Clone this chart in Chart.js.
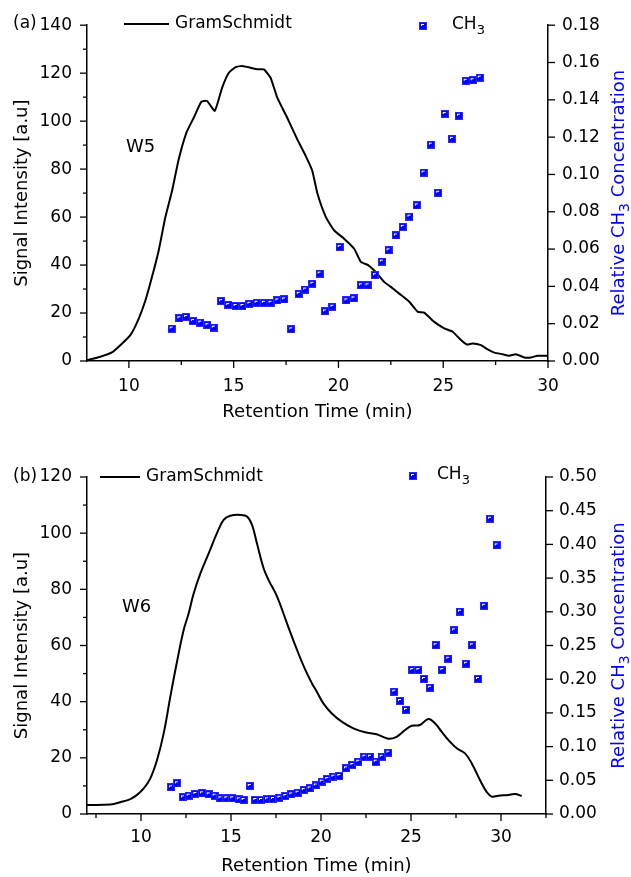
<!DOCTYPE html>
<html>
<head>
<meta charset="utf-8">
<script src="https://cdn.jsdelivr.net/npm/chart.js@4.4.1/dist/chart.umd.min.js"></script>
<style>
  html, body { margin: 0; padding: 0; background: #fff; }
  #wrap { position: relative; width: 631px; height: 877px; }
  canvas { position: absolute; left: 0; }
</style>
</head>
<body>
<div id="wrap">
  <canvas id="chartA" width="631" height="438" style="top:0"></canvas>
  <canvas id="chartB" width="631" height="439" style="top:438px"></canvas>
</div>
<script>
// ---- panel (a), W5 ----
const gramTimeA = [8, 8.64, 9.19, 9.59, 10.07, 10.47, 10.79, 11.1, 11.42, 11.74, 12.06, 12.38, 12.75, 13.1, 13.46, 13.73, 14.1, 14.45, 14.77, 15.09, 15.4, 15.8, 16.12, 16.44, 16.76, 17.08, 17.55, 18.03, 18.43, 18.75, 19.0, 19.4, 19.8, 20.27, 20.75, 21.07, 21.43, 21.78, 22.18, 22.5, 22.9, 23.38, 23.78, 24.09, 24.57, 25.05, 25.45, 25.77, 26.12, 26.4, 26.8, 27.12, 27.44, 27.84, 28.15, 28.47, 28.87, 29.19, 29.5, 30];
const gramA = [0.4, 1.8, 3.6, 6.6, 10.8, 17.7, 25.3, 35, 46, 60, 71, 84.2, 95.3, 101.5, 108.1, 108.4, 104.3, 114, 120.2, 122.5, 123, 122.3, 121.6, 121.6, 118.1, 109.8, 101.5, 92.5, 85.6, 79.3, 69.7, 60, 54.4, 51, 46.8, 41.3, 39.9, 37.1, 33, 30.9, 28.1, 24.7, 20.5, 20.2, 16.3, 13.6, 12.2, 9.4, 6.9, 7.3, 6.6, 4.8, 3.5, 2.8, 2.2, 2.8, 1.5, 1.5, 2.2, 2.2];
const ch3TimeA = [12.04, 12.41, 12.73, 13.06, 13.41, 13.75, 14.05, 14.4, 14.74, 15.09, 15.42, 15.75, 16.09, 16.44, 16.76, 17.08, 17.41, 17.75, 18.1, 18.41, 18.76, 19.1, 19.36, 19.71, 20.06, 20.38, 20.72, 21.07, 21.39, 21.74, 22.07, 22.39, 22.74, 23.07, 23.39, 23.74, 24.06, 24.41, 24.76, 25.07, 25.42, 25.75, 26.07, 26.4, 26.74];
const ch3A = [0.0174, 0.0229, 0.0236, 0.0215, 0.0206, 0.0192, 0.0179, 0.0321, 0.030, 0.0295, 0.0295, 0.0307, 0.0312, 0.0312, 0.0312, 0.0325, 0.033, 0.017, 0.036, 0.0383, 0.0414, 0.0469, 0.0266, 0.0291, 0.0611, 0.0325, 0.0336, 0.0406, 0.0406, 0.046, 0.0533, 0.0593, 0.0673, 0.0719, 0.0774, 0.0834, 0.101, 0.116, 0.0902, 0.1324, 0.1191, 0.1315, 0.1502, 0.1505, 0.1519];
const xTicksA = [10, 12.5, 15, 17.5, 20, 22.5, 25, 27.5, 30];
const yTicksA = [0, 10, 20, 30, 40, 50, 60, 70, 80, 90, 100, 110, 120, 130, 140];
const y2TicksA = [0, 0.02, 0.04, 0.06, 0.08, 0.10, 0.12, 0.14, 0.16, 0.18];

// ---- panel (b), W6 ----
const gramTimeB = [7, 8.3, 8.85, 9.41, 9.78, 10.15, 10.52, 10.89, 11.26, 11.63, 12, 12.37, 12.65, 12.93, 13.3, 13.76, 14.22, 14.59, 14.96, 15.52, 15.89, 16.17, 16.44, 16.81, 17.09, 17.56, 18.11, 18.67, 19.13, 19.5, 19.76, 20.13, 20.59, 21.15, 21.8, 22.45, 23.09, 23.74, 24.2, 24.67, 25.04, 25.5, 25.96, 26.33, 26.7, 27.07, 27.54, 28, 28.37, 28.83, 29.2, 29.48, 29.85, 30.41, 30.78, 31.15];
const gramB = [3.2, 3.4, 4.2, 5.3, 6.8, 9.1, 12.7, 19.2, 28.7, 41.8, 54.2, 65.5, 71.5, 78.6, 85.7, 92.8, 100, 104.7, 106.2, 106.5, 105.9, 102.9, 96.4, 87.5, 83.3, 77.4, 67.9, 58.4, 51.3, 46.5, 43.6, 39.4, 35.9, 32.9, 30.5, 29.1, 28.4, 26.8, 27.5, 29.9, 31.4, 31.7, 33.8, 32.3, 29.3, 26.4, 23.4, 21.6, 18.1, 12.1, 7.9, 6.2, 6.5, 6.8, 7.1, 6.4];
const ch3TimeB = [11.67, 12.0, 12.33, 12.65, 13.02, 13.39, 13.76, 14.09, 14.41, 14.74, 15.07, 15.43, 15.7, 16.04, 16.35, 16.67, 17.0, 17.33, 17.69, 18.02, 18.35, 18.7, 19.04, 19.37, 19.71, 20.04, 20.35, 20.69, 21.02, 21.39, 21.74, 22.07, 22.41, 22.72, 23.04, 23.37, 23.74, 24.07, 24.39, 24.72, 25.07, 25.41, 25.72, 26.06, 26.37, 26.74, 27.07, 27.39, 27.72, 28.06, 28.39, 28.72, 29.06, 29.39, 29.76];
const ch3B = [0.0396, 0.0455, 0.0247, 0.0272, 0.0297, 0.0307, 0.0292, 0.0272, 0.0233, 0.0233, 0.0233, 0.0218, 0.0208, 0.0415, 0.0208, 0.0208, 0.0218, 0.0223, 0.0242, 0.0267, 0.0292, 0.0316, 0.0356, 0.0381, 0.0423, 0.048, 0.0519, 0.0554, 0.0564, 0.0678, 0.0727, 0.0776, 0.085, 0.085, 0.0776, 0.085, 0.091, 0.1815, 0.1677, 0.1543, 0.2136, 0.2136, 0.2003, 0.1874, 0.2503, 0.2136, 0.2304, 0.2725, 0.3002, 0.223, 0.2503, 0.2003, 0.309, 0.4381, 0.3986];
const xTicksB = [7.5, 10, 12.5, 15, 17.5, 20, 22.5, 25, 27.5, 30, 32.5];
const yTicksB = [0, 10, 20, 30, 40, 50, 60, 70, 80, 90, 100, 110, 120];
const y2TicksB = [0, 0.05, 0.10, 0.15, 0.20, 0.25, 0.30, 0.35, 0.40, 0.45, 0.50];

const fam = '"DejaVu Sans", sans-serif';

// blue square marker with a small white highlight
function squareMarker() {
  const c = document.createElement('canvas');
  c.width = 8; c.height = 8;
  const g = c.getContext('2d');
  g.fillStyle = '#2a2aff';
  g.fillRect(0, 0, 8, 8);
  g.fillStyle = '#0000ff';
  g.fillRect(1, 1, 6, 6);
  g.fillStyle = '#ffffff';
  g.fillRect(2, 2, 3, 1);
  g.fillRect(2, 2, 1, 2);
  return c;
}
const marker = squareMarker();

// outward tick marks, long for labelled ticks, short for minor ones
const tickMarks = {
  id: 'tickMarks',
  afterDraw(chart) {
    const ctx = chart.ctx;
    ctx.save();
    ctx.strokeStyle = '#000';
    ctx.lineWidth = 1.3;
    Object.values(chart.scales).forEach(s => {
      s.ticks.forEach(t => {
        const len = t.label === '' ? 4 : 7;
        const p = s.getPixelForValue(t.value);
        ctx.beginPath();
        if (s.position === 'bottom') { ctx.moveTo(p, s.top); ctx.lineTo(p, s.top + len); }
        else if (s.position === 'left') { ctx.moveTo(s.right, p); ctx.lineTo(s.right - len, p); }
        else { ctx.moveTo(s.left, p); ctx.lineTo(s.left + len, p); }
        ctx.stroke();
      });
    });
    ctx.restore();
  }
};

function subText(ctx, pre, sub, post, x, y, size, center) {
  ctx.font = size + 'px ' + fam;
  const w1 = ctx.measureText(pre).width;
  const w3 = ctx.measureText(post).width;
  ctx.font = Math.round(size * 0.75) + 'px ' + fam;
  const w2 = ctx.measureText(sub).width;
  if (center) x -= (w1 + w2 + w3) / 2;
  ctx.font = size + 'px ' + fam;
  ctx.fillText(pre, x, y);
  ctx.fillText(post, x + w1 + w2, y);
  ctx.font = Math.round(size * 0.75) + 'px ' + fam;
  ctx.fillText(sub, x + w1, y + size * 0.36);
}

// panel letter, sample name, legend keys and the right axis title
const extras = {
  id: 'extras',
  afterDraw(chart, args, o) {
    const ctx = chart.ctx, area = chart.chartArea;
    ctx.save();
    ctx.fillStyle = '#000';
    ctx.textBaseline = 'middle';
    ctx.textAlign = 'left';
    ctx.font = '17px ' + fam;
    ctx.fillText(o.panel, o.panelAt[0], o.panelAt[1]);
    ctx.font = '18px ' + fam;
    ctx.fillText(o.tag, o.tagAt[0], o.tagAt[1]);

    ctx.strokeStyle = '#000';
    ctx.lineWidth = 1.8;
    ctx.beginPath();
    ctx.moveTo(o.lineKey[0], o.lineKey[2]);
    ctx.lineTo(o.lineKey[1], o.lineKey[2]);
    ctx.stroke();
    ctx.font = '17px ' + fam;
    ctx.fillText('GramSchmidt', o.lineKey[1] + 6, o.lineKey[2]);

    ctx.drawImage(marker, o.dotKey[0] - 4, o.dotKey[1] - 4);
    subText(ctx, 'CH', '3', '', o.dotKey[2], o.dotKey[1] - 1, 17, false);

    ctx.translate(o.rightTitleX, (area.top + area.bottom) / 2);
    ctx.rotate(-Math.PI / 2);
    ctx.fillStyle = '#0000ff';
    subText(ctx, 'Relative CH', '3', ' Concentration', 0, 0, 18, true);
    ctx.restore();
  }
};

function points(xs, ys) {
  return xs.map((x, i) => ({ x: x, y: ys[i] }));
}

function makeChart(id, cfg) {
  const tickFont = { family: fam, size: 17 };
  new Chart(document.getElementById(id), {
    type: 'scatter',
    data: {
      datasets: [
        {
          label: 'CH3',
          data: points(cfg.ch3Time, cfg.ch3),
          yAxisID: 'y2',
          pointStyle: marker,
          pointRadius: 4,
          order: 1
        },
        {
          label: 'GramSchmidt',
          data: points(cfg.gramTime, cfg.gram),
          yAxisID: 'y',
          showLine: true,
          borderColor: '#000',
          borderWidth: 2,
          pointRadius: 0,
          tension: cfg.tension,
          order: 2
        }
      ]
    },
    options: {
      responsive: false,
      animation: false,
      devicePixelRatio: 1,
      layout: { padding: { top: cfg.top, left: 0, right: 0, bottom: 0 } },
      plugins: {
        legend: { display: false },
        tooltip: { enabled: false },
        extras: cfg.extras
      },
      scales: {
        x: {
          type: 'linear', position: 'bottom', min: cfg.xMin, max: cfg.xMax,
          afterBuildTicks: s => { s.ticks = cfg.xTicks.map(v => ({ value: v })); },
          afterFit: s => { s.height = cfg.xH; },
          grid: { display: false, drawTicks: false },
          border: { display: true, color: '#000', width: 1.5 },
          ticks: { autoSkip: false, maxRotation: 0, padding: cfg.xPad, color: '#000', font: tickFont,
                   callback: v => (v % 5 === 0 ? String(v) : '') },
          title: { display: true, text: 'Retention Time (min)', color: '#000',
                   font: { family: fam, size: 18 }, padding: { top: 0, bottom: cfg.xTitlePad } }
        },
        y: {
          type: 'linear', position: 'left', min: 0, max: cfg.yMax,
          afterBuildTicks: s => { s.ticks = cfg.yTicks.map(v => ({ value: v })); },
          afterFit: s => { s.width = 87; },
          grid: { display: false, drawTicks: false },
          border: { display: true, color: '#000', width: 1.5 },
          ticks: { autoSkip: false, padding: 15, color: '#000', font: tickFont,
                   callback: v => (v % 20 === 0 ? String(v) : '') },
          title: { display: true, text: 'Signal Intensity [a.u]', color: '#000',
                   font: { family: fam, size: 18 }, padding: { top: 12, bottom: 0 } }
        },
        y2: {
          type: 'linear', position: 'right', min: 0, max: cfg.y2Max,
          afterBuildTicks: s => { s.ticks = cfg.y2Ticks.map(v => ({ value: v })); },
          afterFit: s => { s.width = cfg.rightW; },
          grid: { display: false, drawTicks: false },
          border: { display: true, color: '#000', width: 1.5 },
          ticks: { autoSkip: false, padding: cfg.rightPad, color: '#000', font: tickFont,
                   callback: v => v.toFixed(2) }
        }
      }
    },
    plugins: [tickMarks, extras]
  });
}

makeChart('chartA', {
  gramTime: gramTimeA, gram: gramA, ch3Time: ch3TimeA, ch3: ch3A,
  xTicks: xTicksA, yTicks: yTicksA, y2Ticks: y2TicksA,
  xMin: 8, xMax: 30, yMax: 140, y2Max: 0.18, tension: 0.15,
  top: 24, xH: 77, rightW: 83, xPad: 15, xTitlePad: 15, rightPad: 14,
  extras: { panel: '(a)', panelAt: [13, 24], tag: 'W5', tagAt: [126, 147],
            lineKey: [124, 169, 24], dotKey: [423, 26, 452], rightTitleX: 619 }
});

makeChart('chartB', {
  gramTime: gramTimeB, gram: gramB, ch3Time: ch3TimeB, ch3: ch3B,
  xTicks: xTicksB, yTicks: yTicksB, y2Ticks: y2TicksB,
  xMin: 7, xMax: 32.5, yMax: 120, y2Max: 0.5, tension: 0.4,
  top: 39, xH: 63, rightW: 85, xPad: 13, xTitlePad: 0, rightPad: 13,
  extras: { panel: '(b)', panelAt: [13, 39], tag: 'W6', tagAt: [122, 169.5],
            lineKey: [100, 140, 39], dotKey: [413, 38, 437], rightTitleX: 619 }
});
</script>
</body>
</html>
